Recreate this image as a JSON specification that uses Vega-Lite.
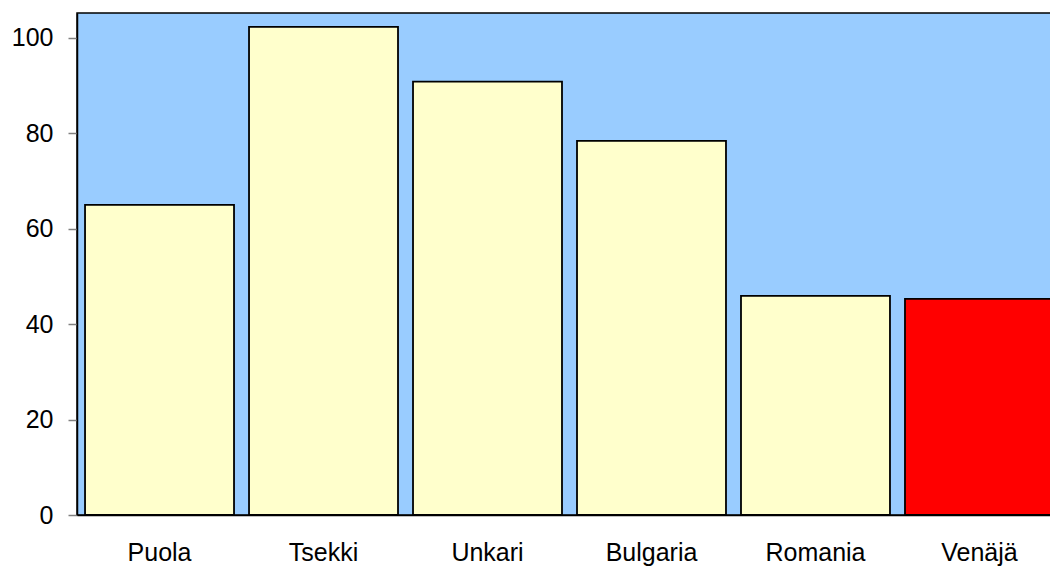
{
  "$schema": "https://vega.github.io/schema/vega-lite/v6.json",
  "autosize": {"type": "none"},
  "padding": {"left": 77, "top": 13, "right": 0, "bottom": 53},
  "width": 974,
  "height": 502,
  "background": "white",
  "config": {
    "view": {"fill": "#99CCFF", "stroke": "black", "strokeWidth": 1.5},
    "axis": {"labelFont": "Liberation Sans", "labelFontSize": 25, "labelColor": "black", "grid": false, "title": null}
  },
  "data": {
    "values": [
      {"maa": "Puola", "arvo": 65.0, "ryhma": "muu"},
      {"maa": "Tsekki", "arvo": 102.3, "ryhma": "muu"},
      {"maa": "Unkari", "arvo": 90.8, "ryhma": "muu"},
      {"maa": "Bulgaria", "arvo": 78.4, "ryhma": "muu"},
      {"maa": "Romania", "arvo": 45.9, "ryhma": "muu"},
      {"maa": "Venäjä", "arvo": 45.3, "ryhma": "venaja"}
    ]
  },
  "mark": {"type": "bar", "stroke": "black", "strokeWidth": 1.8},
  "encoding": {
    "x": {
      "field": "maa", "type": "nominal", "sort": null,
      "scale": {"range": [0, 985], "paddingInner": 0.0915, "paddingOuter": 0.049},
      "axis": {"labelAngle": 0, "ticks": false, "labelPadding": 25, "domainColor": "black", "domainWidth": 1.5}
    },
    "y": {
      "field": "arvo", "type": "quantitative",
      "scale": {"domain": [0, 105.2], "nice": false},
      "axis": {"values": [0, 20, 40, 60, 80, 100], "tickSize": 9, "tickColor": "#808080", "tickWidth": 1.5, "labelPadding": 15, "domainColor": "black", "domainWidth": 1.5}
    },
    "color": {
      "field": "ryhma", "type": "nominal",
      "scale": {"domain": ["muu", "venaja"], "range": ["#FFFFCC", "#FF0000"]},
      "legend": null
    }
  }
}
